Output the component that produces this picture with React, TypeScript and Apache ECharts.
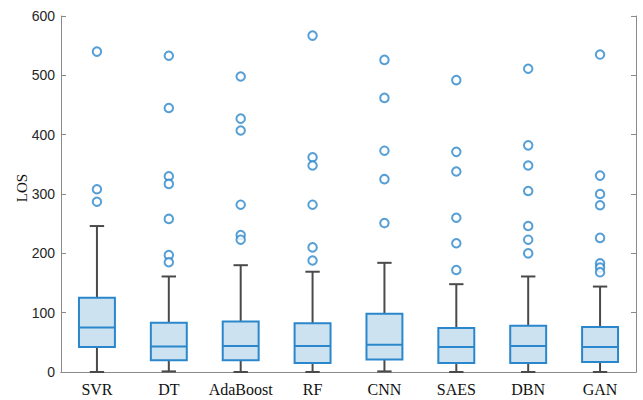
import React, { useEffect, useRef } from "react";
import * as echarts from "echarts";

// Models compared
const categories = ["SVR", "DT", "AdaBoost", "RF", "CNN", "SAES", "DBN", "GAN"];

// Box statistics per model: [lower whisker, Q1, median, Q3, upper whisker]
const lowerWhisker = [0, 1, 0, 0, 1, 0, 0, 0];
const q1 = [42, 20, 20, 15, 21, 15, 15, 17];
const median = [75, 43, 44, 44, 46, 42, 44, 42];
const q3 = [125, 83, 85, 82, 98, 74, 78, 76];
const upperWhisker = [246, 161, 180, 169, 184, 148, 161, 144];

// Outliers per model
const outliers: number[][] = [
  [540, 308, 287],
  [533, 445, 330, 317, 258, 197, 185],
  [498, 427, 407, 282, 231, 223],
  [567, 362, 348, 282, 210, 188],
  [526, 462, 373, 325, 251],
  [492, 371, 338, 260, 217, 172],
  [511, 382, 348, 305, 246, 223, 200],
  [535, 331, 300, 281, 226, 183, 176, 168],
];

const yTicks = { min: 0, max: 600, interval: 100 };

const BOX_FILL = "#cde2f1";
const BOX_LINE = "#2b87cc";
const WHISKER = "#4a4a4a";
const FRAME = "#8a8a8a";

export default function App() {
  const ref = useRef<HTMLDivElement>(null);

  useEffect(() => {
    if (!ref.current) return;
    const chart = echarts.init(ref.current, undefined, { renderer: "svg" });

    const boxData = categories.map((_, i) => [
      i,
      lowerWhisker[i],
      q1[i],
      median[i],
      q3[i],
      upperWhisker[i],
    ]);
    const outlierData: [number, number][] = [];
    outliers.forEach((vals, i) => vals.forEach((v) => outlierData.push([i, v])));

    const renderBox = (_params: any, api: any) => {
      const idx = api.value(0);
      const pMin = api.coord([idx, api.value(1)]);
      const pQ1 = api.coord([idx, api.value(2)]);
      const pMed = api.coord([idx, api.value(3)]);
      const pQ3 = api.coord([idx, api.value(4)]);
      const pMax = api.coord([idx, api.value(5)]);
      const band = api.size([1, 0])[0];
      const half = band * 0.25;
      const cap = band * 0.1;
      const cx = pMed[0];
      const wStyle = { stroke: WHISKER, lineWidth: 2 };
      return {
        type: "group",
        children: [
          { type: "line", shape: { x1: cx, y1: pQ3[1], x2: cx, y2: pMax[1] }, style: wStyle },
          { type: "line", shape: { x1: cx, y1: pQ1[1], x2: cx, y2: pMin[1] }, style: wStyle },
          { type: "line", shape: { x1: cx - cap, y1: pMax[1], x2: cx + cap, y2: pMax[1] }, style: wStyle },
          { type: "line", shape: { x1: cx - cap, y1: pMin[1], x2: cx + cap, y2: pMin[1] }, style: wStyle },
          {
            type: "rect",
            shape: { x: cx - half, y: pQ3[1], width: half * 2, height: pQ1[1] - pQ3[1] },
            style: { fill: BOX_FILL, stroke: BOX_LINE, lineWidth: 2 },
          },
          {
            type: "line",
            shape: { x1: cx - half, y1: pMed[1], x2: cx + half, y2: pMed[1] },
            style: { stroke: BOX_LINE, lineWidth: 2 },
          },
        ],
      };
    };

    const yLabel = {
      fontFamily: "Liberation Sans, Arial, sans-serif",
      fontSize: 14,
      color: "#262626",
      margin: 6,
    };

    chart.setOption({
      animation: false,
      grid: { left: 61, right: 7, top: 16, bottom: 28 },
      xAxis: [
        {
          type: "category",
          data: categories,
          position: "bottom",
          axisLine: { lineStyle: { color: FRAME, width: 1 } },
          axisTick: { inside: true, alignWithLabel: true, length: 5, lineStyle: { color: FRAME } },
          axisLabel: {
            interval: 0,
            fontFamily: "Liberation Serif, Times New Roman, serif",
            fontSize: 16,
            color: "#111",
            margin: 9,
          },
        },
        {
          type: "category",
          data: categories,
          position: "top",
          axisLine: { lineStyle: { color: FRAME, width: 1 } },
          axisTick: { inside: true, alignWithLabel: true, interval: 0, length: 5, lineStyle: { color: FRAME } },
          axisLabel: { show: false },
        },
      ],
      yAxis: [
        {
          type: "value",
          ...yTicks,
          position: "left",
          axisLine: { show: true, lineStyle: { color: FRAME, width: 1 } },
          axisTick: { show: true, inside: true, length: 5, lineStyle: { color: FRAME } },
          axisLabel: yLabel,
          splitLine: { show: false },
        },
        {
          type: "value",
          ...yTicks,
          position: "right",
          axisLine: { show: true, lineStyle: { color: FRAME, width: 1 } },
          axisTick: { show: true, inside: true, length: 5, lineStyle: { color: FRAME } },
          axisLabel: { show: false },
          splitLine: { show: false },
        },
      ],
      graphic: [
        {
          type: "text",
          x: 22,
          y: 188,
          rotation: Math.PI / 2,
          style: {
            text: "LOS",
            fontFamily: "Liberation Serif, Times New Roman, serif",
            fontSize: 15,
            fill: "#111",
            align: "center",
            verticalAlign: "middle",
          },
        },
      ],
      series: [
        {
          type: "custom",
          renderItem: renderBox,
          data: boxData,
          encode: { x: 0, y: [1, 2, 3, 4, 5] },
          z: 2,
        },
        {
          type: "scatter",
          data: outlierData,
          symbol: "emptyCircle",
          symbolSize: 8.5,
          itemStyle: { color: BOX_LINE, borderWidth: 1.6 },
          z: 3,
        },
      ],
    });

    return () => chart.dispose();
  }, []);

  return (
    <div
      ref={ref}
      style={{ position: "absolute", left: 0, top: 0, width: 643, height: 400, background: "#fff" }}
    />
  );
}
